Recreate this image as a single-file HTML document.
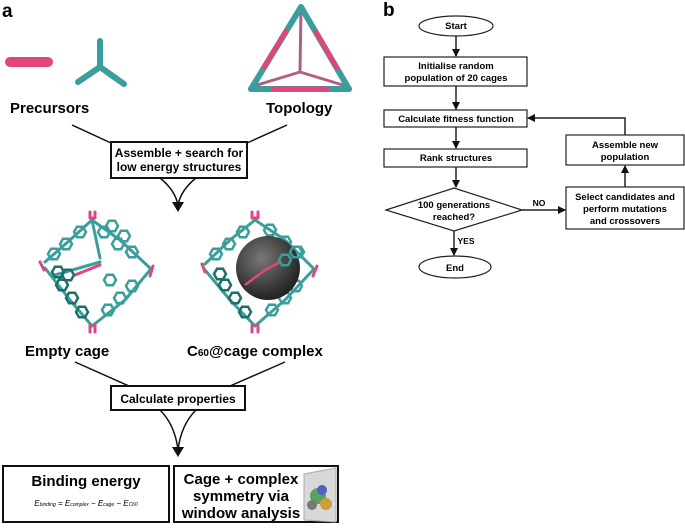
<!DOCTYPE html>
<html><head><meta charset="utf-8"><style>
html,body{margin:0;padding:0;background:#fff}
svg{display:block}
text{font-family:"Liberation Sans",sans-serif}
</style></head><body>
<svg width="685" height="528" viewBox="0 0 685 528" xmlns="http://www.w3.org/2000/svg">
<defs>
<polygon id="hx" points="6,0 3,5.2 -3,5.2 -6,0 -3,-5.2 3,-5.2" fill="none" stroke="#3a9e9c" stroke-width="2.5"/>
<polygon id="hxd" points="6,0 3,5.2 -3,5.2 -6,0 -3,-5.2 3,-5.2" fill="none" stroke="#1f6e6c" stroke-width="2.5"/>
<marker id="ar" markerWidth="8" markerHeight="8" refX="7" refY="4" orient="auto" markerUnits="userSpaceOnUse"><path d="M0,0 L8,4 L0,8 z" fill="#111"/></marker>
<radialGradient id="sph" cx="40%" cy="35%" r="65%"><stop offset="0" stop-color="#777"/><stop offset="1" stop-color="#222"/></radialGradient>
</defs>

<text x="2" y="17" font-size="19" font-weight="bold">a</text>
<rect x="5" y="57" width="48" height="10" rx="5" fill="#e0457b"/>
<g stroke="#3a9e9c" stroke-width="6" stroke-linecap="round">
<line x1="100" y1="41" x2="100" y2="67"/><line x1="100" y1="67" x2="78" y2="82"/><line x1="100" y1="67" x2="124" y2="84"/>
</g>
<g stroke-width="6" stroke-linecap="round">
<line x1="301" y1="7" x2="300" y2="72" stroke="#b06080" stroke-width="3"/>
<line x1="300" y1="72" x2="254" y2="86" stroke="#b06080" stroke-width="3"/>
<line x1="300" y1="72" x2="346" y2="86" stroke="#b06080" stroke-width="3"/>
<line x1="301" y1="7" x2="251" y2="89" stroke="#3a9e9c"/>
<line x1="301" y1="7" x2="349" y2="89" stroke="#3a9e9c"/>
<line x1="251" y1="89" x2="349" y2="89" stroke="#3a9e9c"/>
<line x1="286" y1="31" x2="264" y2="67" stroke="#e0457b" stroke-width="5"/>
<line x1="316" y1="32" x2="337" y2="68" stroke="#e0457b" stroke-width="5"/>
<line x1="273" y1="89" x2="327" y2="89" stroke="#e0457b" stroke-width="5"/>
</g>
<text x="10" y="113" font-size="15" font-weight="bold">Precursors</text>
<text x="266" y="113" font-size="15" font-weight="bold">Topology</text>

<g stroke="#111" stroke-width="1.5" fill="none">
<line x1="72" y1="125" x2="111" y2="143"/><line x1="287" y1="125" x2="247" y2="143"/>
<rect x="111" y="142" width="136" height="36" stroke-width="2"/>
<path d="M160,178 Q175,190 178,205"/><path d="M196,178 Q181,190 178,205"/>
<line x1="75" y1="362" x2="129" y2="386"/><line x1="285" y1="362" x2="230" y2="386"/>
<rect x="111" y="386" width="134" height="24" stroke-width="2"/>
<path d="M160,410 Q175,425 178,450"/><path d="M196,410 Q181,425 178,450"/>
<rect x="3" y="466" width="166" height="56" stroke-width="2"/>
<rect x="174" y="466" width="164" height="56" stroke-width="2"/>
</g>
<path d="M172,202 L184,202 L178,212 z" fill="#111"/>
<path d="M172,447 L184,447 L178,457 z" fill="#111"/>
<text x="179" y="157" font-size="12" font-weight="bold" text-anchor="middle">Assemble + search for</text>
<text x="179" y="171" font-size="12" font-weight="bold" text-anchor="middle">low energy structures</text>
<text x="178" y="403" font-size="12" font-weight="bold" text-anchor="middle">Calculate properties</text>

<g fill="none" stroke-linecap="round" stroke-linejoin="round">
 <g stroke="#3a9e9c" stroke-width="3">
  <path d="M92,220 L70,240 L45,262 M92,220 L120,240 L150,268 M45,268 L70,300 L92,326 M150,270 L125,300 L92,326 M92,220 L100,258 M55,275 L100,262"/>
  <path d="M255,220 L230,240 L205,264 M255,220 L285,240 L313,268 M205,270 L230,300 L255,326 M313,270 L285,300 L255,326"/>
 </g>
 <g stroke="#e0457b" stroke-width="3">
  <path d="M90,212 L90,218 L95,218 L95,212 M40,262 L44,270 M153,266 L150,276 M90,332 L90,325 M95,332 L95,325 M75,275 L100,265"/>
  <path d="M252,212 L252,218 L258,218 L258,212 M202,264 L205,272 M317,266 L313,276 M252,332 L252,325 M258,332 L258,325"/>
 </g>
</g>
<g>
<use href="#hx" x="80" y="232"/><use href="#hx" x="66" y="244"/><use href="#hx" x="54" y="254"/>
<use href="#hx" x="104" y="232"/><use href="#hx" x="118" y="244"/><use href="#hx" x="132" y="252"/><use href="#hx" x="112" y="226"/><use href="#hx" x="124" y="236"/>
<use href="#hxd" x="62" y="285"/><use href="#hxd" x="72" y="298"/><use href="#hxd" x="82" y="312"/><use href="#hxd" x="68" y="275"/><use href="#hxd" x="58" y="272"/>
<use href="#hx" x="120" y="298"/><use href="#hx" x="108" y="310"/><use href="#hx" x="132" y="286"/><use href="#hx" x="110" y="280"/>
<use href="#hx" x="243" y="232"/><use href="#hx" x="229" y="244"/><use href="#hx" x="216" y="254"/>
<use href="#hx" x="270" y="230"/><use href="#hx" x="285" y="242"/><use href="#hx" x="298" y="252"/>
<use href="#hxd" x="225" y="285"/><use href="#hxd" x="235" y="298"/><use href="#hxd" x="245" y="312"/><use href="#hxd" x="220" y="274"/>
<use href="#hx" x="285" y="298"/><use href="#hx" x="272" y="310"/><use href="#hx" x="296" y="286"/>
</g>
<circle cx="268" cy="268" r="32" fill="url(#sph)"/>
<path d="M245,285 L265,270 L280,262" stroke="#e0457b" stroke-width="2.5" fill="none"/>
<use href="#hx" x="285" y="260"/><use href="#hx" x="296" y="252"/>

<text x="25" y="356" font-size="15" font-weight="bold">Empty cage</text>
<text x="187" y="356" font-size="15" font-weight="bold">C<tspan font-size="10">60</tspan>@cage complex</text>

<text x="86" y="486" font-size="15" font-weight="bold" text-anchor="middle">Binding energy</text>
<text x="86" y="506" font-size="8" font-style="italic" text-anchor="middle" font-family="Liberation Serif,serif">E<tspan font-size="5">binding</tspan> = E<tspan font-size="5">complex</tspan> − E<tspan font-size="5">cage</tspan> − E<tspan font-size="5">C60</tspan></text>
<text x="241" y="484" font-size="15" font-weight="bold" text-anchor="middle">Cage + complex</text>
<text x="241" y="501" font-size="15" font-weight="bold" text-anchor="middle">symmetry via</text>
<text x="241" y="518" font-size="15" font-weight="bold" text-anchor="middle">window analysis</text>
<path d="M304,474 L336,468 L336,522 L304,520 z" fill="#d8d8d8" stroke="#aaa"/>
<circle cx="318" cy="496" r="8" fill="#5aa060"/><circle cx="326" cy="504" r="6" fill="#c8a040"/><circle cx="322" cy="490" r="5" fill="#5060c0"/><circle cx="312" cy="505" r="5" fill="#777"/>

<text x="383" y="16" font-size="19" font-weight="bold">b</text>
<g stroke="#222" stroke-width="1.2" fill="#fff">
<ellipse cx="456" cy="26" rx="37" ry="10"/>
<rect x="384" y="57" width="143" height="29"/>
<rect x="384" y="110" width="143" height="17"/>
<rect x="384" y="149" width="143" height="18"/>
<polygon points="386,210 454,188 522,210 454,231"/>
<ellipse cx="455" cy="267" rx="36" ry="11"/>
<rect x="566" y="187" width="118" height="42"/>
<rect x="566" y="135" width="118" height="30"/>
</g>
<g stroke="#222" stroke-width="1.5" fill="none" marker-end="url(#ar)">
<line x1="456" y1="36" x2="456" y2="56"/>
<line x1="456" y1="86" x2="456" y2="109"/>
<line x1="456" y1="127" x2="456" y2="148"/>
<line x1="456" y1="167" x2="456" y2="187"/>
<line x1="454" y1="231" x2="454" y2="255"/>
<line x1="522" y1="210" x2="565" y2="210"/>
<line x1="625" y1="187" x2="625" y2="166"/>
<polyline points="625,135 625,118 528,118"/>
</g>
<g font-size="9.5" font-weight="bold" text-anchor="middle">
<text x="456" y="29">Start</text>
<text x="456" y="69">Initialise random</text>
<text x="456" y="81">population of 20 cages</text>
<text x="456" y="122">Calculate fitness function</text>
<text x="456" y="161">Rank structures</text>
<text x="454" y="208">100 generations</text>
<text x="454" y="220">reached?</text>
<text x="455" y="271">End</text>
<text x="625" y="200">Select candidates and</text>
<text x="625" y="212">perform mutations</text>
<text x="625" y="224">and crossovers</text>
<text x="625" y="148">Assemble new</text>
<text x="625" y="160">population</text>
<text x="539" y="206" font-size="8.5">NO</text>
<text x="466" y="244" font-size="8.5">YES</text>
</g>
</svg>
</body></html>
